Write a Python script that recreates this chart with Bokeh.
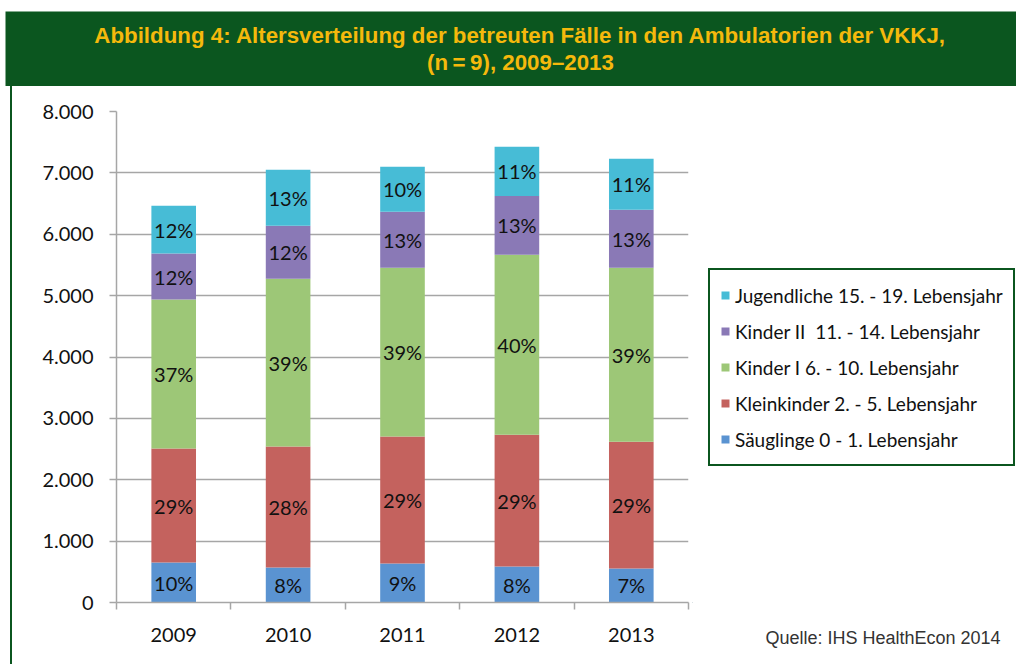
from bokeh.plotting import figure
from bokeh.models import (ColumnDataSource, Range1d, FixedTicker, Legend, LegendItem,
                          BoxAnnotation, Label, LinearAxis, Div)
from bokeh.layouts import column, row
from bokeh.core.properties import value
from bokeh.embed import file_html
from bokeh.resources import INLINE

years = ["2009", "2010", "2011", "2012", "2013"]
series = ["Säuglinge 0 - 1. Lebensjahr",
          "Kleinkinder 2. - 5. Lebensjahr",
          "Kinder I 6. - 10. Lebensjahr",
          "Kinder II\u00a0 11. - 14. Lebensjahr",
          "Jugendliche 15. - 19. Lebensjahr"]
saeuglinge = [650, 570, 635, 585, 555]
kleinkinder = [1860, 1970, 2070, 2150, 2065]
kinder1 = [2425, 2735, 2750, 2930, 2835]
kinder2 = [750, 865, 910, 960, 945]
jugendliche = [780, 910, 735, 800, 830]
pct_saeuglinge = ["10%", "8%", "9%", "8%", "7%"]
pct_kleinkinder = ["29%", "28%", "29%", "29%", "29%"]
pct_kinder1 = ["37%", "39%", "39%", "40%", "39%"]
pct_kinder2 = ["12%", "12%", "13%", "13%", "13%"]
pct_jugendliche = ["12%", "13%", "10%", "11%", "11%"]
y_ticks = [0, 1000, 2000, 3000, 4000, 5000, 6000, 7000, 8000]
y_tick_labels = ["0", "1.000", "2.000", "3.000", "4.000", "5.000", "6.000", "7.000", "8.000"]
title_lines = ["Abbildung 4: Altersverteilung der betreuten Fälle in den Ambulatorien der VKKJ,",
               "(n\u2009=\u20099), 2009\u20132013"]
source_text = "Quelle: IHS HealthEcon 2014"

colors = ["#5a93d1", "#c4625e", "#9dc777", "#8a79b6", "#47bcd6"]
values = [saeuglinge, kleinkinder, kinder1, kinder2, jugendliche]
pcts = [pct_saeuglinge, pct_kleinkinder, pct_kinder1, pct_kinder2, pct_jugendliche]
keys = ["s0", "s1", "s2", "s3", "s4"]
GREEN = "#0b561f"
YELLOW = "#f5b90c"
FONT = "Lato"


def blank(width, height):
    f = figure(width=width, height=height, output_backend="svg", toolbar_location=None,
               x_range=Range1d(0, width), y_range=Range1d(height, 0),
               x_axis_type=None, y_axis_type=None, min_border=0,
               min_border_left=0, min_border_right=0, min_border_top=0,
               min_border_bottom=0)
    f.outline_line_color = None
    f.xgrid.visible = False
    f.ygrid.visible = False
    f.background_fill_color = "white"
    f.border_fill_color = "white"
    return f


# ---- header
head = blank(1016, 86)
head.add_layout(BoxAnnotation(left=5, right=1016, top=11, bottom=86,
                              fill_color=GREEN, fill_alpha=1, line_color=None))
for t, yy in zip(title_lines, [35, 62]):
    head.add_layout(Label(x=520, y=yy, text=t, text_align="center",
                          text_baseline="middle", text_font="Liberation Sans",
                          text_font_style="bold", text_font_size="22.3px",
                          text_color=YELLOW))

# ---- left border strip
side = Div(width=12, height=578, margin=0, text=(
    '<div style="position:absolute;left:10px;top:0px;width:2px;height:578px;'
    'background:%s;"></div>' % GREEN))

# ---- main chart
xs = [i + 0.5 for i in range(len(years))]
data = {"x": xs}
for k, v in zip(keys, values):
    data[k] = v
src = ColumnDataSource(data)

p = figure(width=680, height=578, output_backend="svg", toolbar_location=None,
           x_range=Range1d(0, len(years)), y_range=Range1d(0, 8000),
           min_border_left=104, min_border_right=4, min_border_top=25,
           min_border_bottom=62)
p.outline_line_color = None
p.background_fill_color = "white"
p.border_fill_color = "white"

p.vbar_stack(keys, x="x", width=0.39, source=src, color=colors, line_color=None)

lx, ly, lt = [], [], []
for i in range(len(years)):
    base = 0
    for v, pc in zip(values, pcts):
        lx.append(xs[i])
        ly.append(base + v[i] / 2)
        lt.append(pc[i])
        base += v[i]
p.text(x=lx, y=ly, text=lt, text_align="center", text_baseline="middle",
       text_font=value(FONT), text_font_size="20px", text_color="#111111")

p.xaxis.ticker = FixedTicker(ticks=xs, minor_ticks=list(range(len(years) + 1)))
p.xaxis.major_label_overrides = {x: y for x, y in zip(xs, years)}
p.xaxis.major_tick_line_color = None
p.xaxis.major_tick_out = 0
p.xaxis.minor_tick_out = 7
p.xaxis.minor_tick_in = 0
p.xaxis.minor_tick_line_color = "#a6a6a6"
p.xaxis.minor_tick_line_width = 1.5
p.xaxis.major_label_standoff = 18
p.yaxis.ticker = FixedTicker(ticks=y_ticks)
p.yaxis.major_label_overrides = {t: l for t, l in zip(y_ticks, y_tick_labels)}
p.yaxis.minor_tick_line_color = None
p.yaxis.major_tick_out = 7
p.yaxis.major_tick_in = 0
p.yaxis.major_tick_line_color = "#a6a6a6"
p.yaxis.major_tick_line_width = 1.5
p.yaxis.major_label_standoff = 16
for ax in (p.xaxis, p.yaxis):
    ax.axis_line_color = "#a6a6a6"
    ax.axis_line_width = 1.5
    ax.major_label_text_font = FONT
    ax.major_label_text_font_size = "20px"
    ax.major_label_text_color = "#111111"
p.xgrid.grid_line_color = None
p.ygrid.grid_line_color = "#a6a6a6"
p.ygrid.grid_line_width = 1.5

# ---- right side: legend and source note (frame aligned with main chart)
right = blank(324, 578)
right.y_range = Range1d(0, 1)
legend_renderers = [right.vbar(x=[-1000], top=[-1000], width=1, color=c,
                               line_color=None) for c in colors]
items = [LegendItem(label=s, renderers=[r])
         for s, r in zip(series, legend_renderers)][::-1]
legend = Legend(items=items, location=(16, 136), border_line_color=GREEN,
                border_line_alpha=1, border_line_width=2.5,
                padding=10, spacing=6, margin=0,
                glyph_width=10, glyph_height=10, label_height=30, label_standoff=5,
                label_text_font=FONT, label_text_font_size="19px",
                label_text_color="#111111", background_fill_color="white",
                background_fill_alpha=1)
right.add_layout(legend, "center")

note_axis = LinearAxis(ticker=FixedTicker(ticks=[190.5]),
                       major_label_overrides={190.5: source_text},
                       axis_line_color=None, major_tick_line_color=None,
                       minor_tick_line_color=None, major_label_standoff=19,
                       major_label_text_font="Liberation Sans",
                       major_label_text_font_size="18px",
                       major_label_text_color="#333333")
right.add_layout(note_axis, "below")

layout = column(head, row(side, p, right, spacing=0), spacing=0)
open("out.html", "w").write(file_html(layout, INLINE))
